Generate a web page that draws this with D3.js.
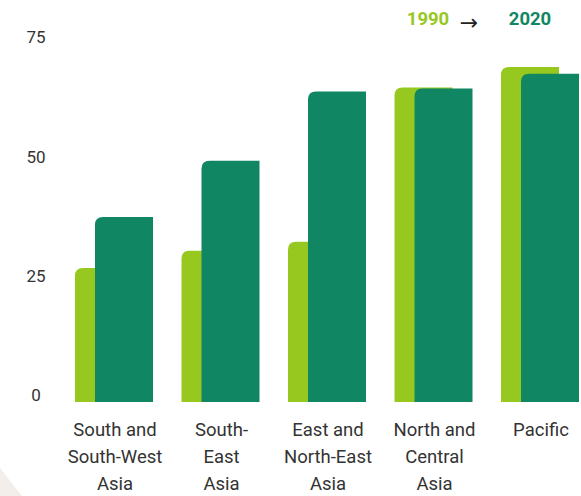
<!DOCTYPE html>
<html><head><meta charset="utf-8">
<script src="https://cdn.jsdelivr.net/npm/d3@7"></script>
<style>body{margin:0;background:#fff;}svg{display:block;}</style>
</head><body>
<svg id="c" width="581" height="496"></svg>
<script>
const categories = [
  ["South and", "South-West", "Asia"],
  ["South-", "East", "Asia"],
  ["East and", "North-East", "Asia"],
  ["North and", "Central", "Asia"],
  ["Pacific"]
];
const values1990 = [26.6, 30.2, 32.1, 64.4, 68.7];
const values2020 = [37.3, 49.1, 63.6, 64.2, 67.3];
const yTicks = [0, 25, 50, 75];
const series = ["1990", "2020"];

const W = 581, H = 496;
const svg = d3.select("#c");
const c1 = "#97c81f", c2 = "#118663";
const font = "Roboto, 'Noto Sans', sans-serif";

// background corner shape
svg.append("path").attr("d", `M0,468 L22,496 L0,496 Z`).attr("fill", "#f3eeea");

const y = d3.scaleLinear().domain([0, 75]).range([395, 37]);
const idx = categories.map((d, i) => i);
const x = d3.scalePoint().domain(idx).range([75, 501]).padding(0);
const bw = 58, off = 20, r = 8, below = 7;

function barPath(x0, y0, w, y1) {
  return `M${x0},${y1} L${x0},${y0 + r} Q${x0},${y0} ${x0 + r},${y0} L${x0 + w},${y0} L${x0 + w},${y1} Z`;
}

const g = svg.append("g");
idx.forEach(i => {
  const x0 = x(i);
  g.append("path").attr("d", barPath(x0, y(values1990[i]), bw, y(0) + below)).attr("fill", c1);
  g.append("path").attr("d", barPath(x0 + off, y(values2020[i]), bw, y(0) + below)).attr("fill", c2);
});

// y axis labels
const yAxis = d3.axisLeft(y).tickValues(yTicks).tickSize(0).tickPadding(0);
const ya = svg.append("g").attr("transform", "translate(36,0)").call(yAxis);
ya.select(".domain").remove();
ya.selectAll("text").attr("font-family", font).attr("font-size", 17).attr("fill", "#333").attr("text-anchor", "middle").attr("dy", "0.35em");

// category labels
idx.forEach(i => {
  const cx = x(i) + (bw + off) / 2 + 1;
  const t = svg.append("text").attr("font-family", font).attr("font-size", 18.5).attr("fill", "#333").attr("text-anchor", "middle");
  categories[i].forEach((line, k) => {
    t.append("tspan").attr("x", cx).attr("y", 436 + k * 27).text(line);
  });
});

// legend
svg.append("text").attr("x", 428).attr("y", 25).attr("text-anchor", "middle").attr("font-family", font).attr("font-size", 18.5).attr("font-weight", "bold").attr("fill", c1).text(series[0]);
svg.append("text").attr("x", 469).attr("y", 30).attr("text-anchor", "middle").attr("font-family", "'DejaVu Sans', sans-serif").attr("font-size", 22).attr("fill", "#222").text("→");
svg.append("text").attr("x", 530).attr("y", 25).attr("text-anchor", "middle").attr("font-family", font).attr("font-size", 18.5).attr("font-weight", "bold").attr("fill", c2).text(series[1]);
</script>
</body></html>
